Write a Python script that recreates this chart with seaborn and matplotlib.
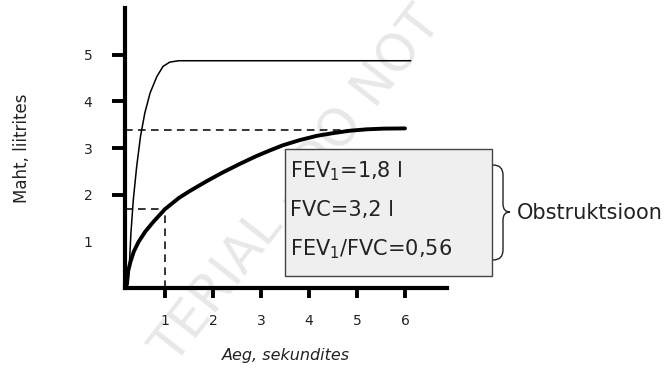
import numpy as np
import pandas as pd
import matplotlib
matplotlib.use('Agg')
import matplotlib.pyplot as plt
import seaborn as sns
from matplotlib.patches import Rectangle, PathPatch
from matplotlib.path import Path

# andmed (loetud pildilt), aeg sekundites, maht liitrites
normal_t = [0.2, 0.235, 0.256, 0.29, 0.34, 0.41, 0.49, 0.58, 0.69, 0.83, 0.96, 1.10, 1.28, 6.12]
normal_v = [0, 0.1, 0.46, 1.17, 1.89, 2.6, 3.25, 3.75, 4.18, 4.53, 4.75, 4.84, 4.87, 4.87]

obstr_t = [0.19, 0.23, 0.28, 0.35, 0.45, 0.59, 0.76, 1.0, 1.29, 1.52, 1.87, 2.21, 2.56, 2.91,
           3.19, 3.46, 3.81, 4.16, 4.51, 4.85, 5.2, 5.55, 6.0]
obstr_v = [0, 0.35, 0.56, 0.78, 0.99, 1.21, 1.42, 1.69, 1.93, 2.08, 2.29, 2.48, 2.66, 2.83,
           2.95, 3.06, 3.17, 3.26, 3.32, 3.37, 3.40, 3.415, 3.42]

fev1_t = 1.0
fev1_v = 1.70
fvc_v = 3.39
fvc_t_end = 4.85

x_ticks = [1, 2, 3, 4, 5, 6]
y_ticks = [1, 2, 3, 4, 5]
box_lines = ['FEV$_1$=1,8 l', 'FVC=3,2 l', 'FEV$_1$/FVC=0,56']
brace_label = 'Obstruktsioon'

sns.set_style('white')
plt.rcParams['font.family'] = ['DejaVu Sans']

fig = plt.figure(figsize=(6.68, 3.72), dpi=100)

# taustal vesimärk
ov = fig.add_axes([0, 0, 1, 1], zorder=0)
ov.set_xlim(0, 668)
ov.set_ylim(372, 0)
ov.axis('off')
ov.text(298, 186, 'TERIAL - DO NOT', rotation=52, fontsize=37, color='#e8e8e8',
        ha='center', va='center', rotation_mode='anchor')

t0 = 0.167
ax = fig.add_axes([125 / 668, 1 - 288 / 372, (447 - 125) / 668, (288 - 8) / 372], zorder=1)
ax.patch.set_alpha(0)

df_n = pd.DataFrame({'t': normal_t, 'v': normal_v})
df_o = pd.DataFrame({'t': obstr_t, 'v': obstr_v})
sns.lineplot(data=df_n, x='t', y='v', ax=ax, color='black', lw=1.1, sort=False, estimator=None,
             solid_joinstyle='round')
sns.lineplot(data=df_o, x='t', y='v', ax=ax, color='black', lw=2.8, sort=False, estimator=None,
             solid_joinstyle='round', solid_capstyle='round')

dash = dict(color='black', lw=1.1, linestyle=(0, (5, 3.5)))
ax.plot([t0, fvc_t_end], [fvc_v, fvc_v], **dash)
ax.plot([t0, fev1_t], [fev1_v, fev1_v], **dash)
ax.plot([fev1_t, fev1_t], [0, fev1_v], **dash)

ax.set_xlim(t0, 6.875)
ax.set_ylim(0, 6.0)
ax.set_xticks(x_ticks)
ax.set_yticks(y_ticks)
ax.set_xticklabels([str(v) for v in x_ticks])
ax.set_yticklabels([str(v) for v in y_ticks])
ax.tick_params(axis='x', bottom=True, direction='out', length=7, width=2.8, pad=12,
               labelsize=10, color='black', labelcolor='#222222')
ax.tick_params(axis='y', left=True, direction='out', length=9.5, width=2.8, pad=14,
               labelsize=10, color='black', labelcolor='#222222')
ax.yaxis.get_major_ticks()[0].tick1line.set_visible(False)
for s in ['top', 'right']:
    ax.spines[s].set_visible(False)
for s in ['left', 'bottom']:
    ax.spines[s].set_linewidth(3)
    ax.spines[s].set_color('black')
ax.set_xlabel('Aeg, sekundites', fontstyle='italic', fontsize=11.5, labelpad=14, color='#222222')
ax.set_ylabel('Maht, liitrites', fontsize=12, labelpad=38, color='#222222')

# kast tekstiga
top = fig.add_axes([0, 0, 1, 1], zorder=2)
top.set_xlim(0, 668)
top.set_ylim(372, 0)
top.axis('off')
top.add_patch(Rectangle((285, 149), 207, 127, facecolor='#efefef', edgecolor='#444444', lw=1))
for i, s in enumerate(box_lines):
    top.text(290, 171 + i * 39, s, fontsize=15, va='center', ha='left', color='#222222')

# sulg
verts = [(493, 165), (503, 165), (503, 175), (503, 204),
         (503, 212), (510, 212),
         (503, 212), (503, 220), (503, 250),
         (503, 260), (493, 260)]
codes = [Path.MOVETO, Path.CURVE3, Path.CURVE3, Path.LINETO,
         Path.CURVE3, Path.CURVE3,
         Path.CURVE3, Path.CURVE3, Path.LINETO,
         Path.CURVE3, Path.CURVE3]
top.add_patch(PathPatch(Path(verts, codes), facecolor='none', edgecolor='#222222', lw=1))
top.text(517, 213, brace_label, fontsize=15, va='center', ha='left', color='#222222')

fig.savefig('out.png', dpi=100)
